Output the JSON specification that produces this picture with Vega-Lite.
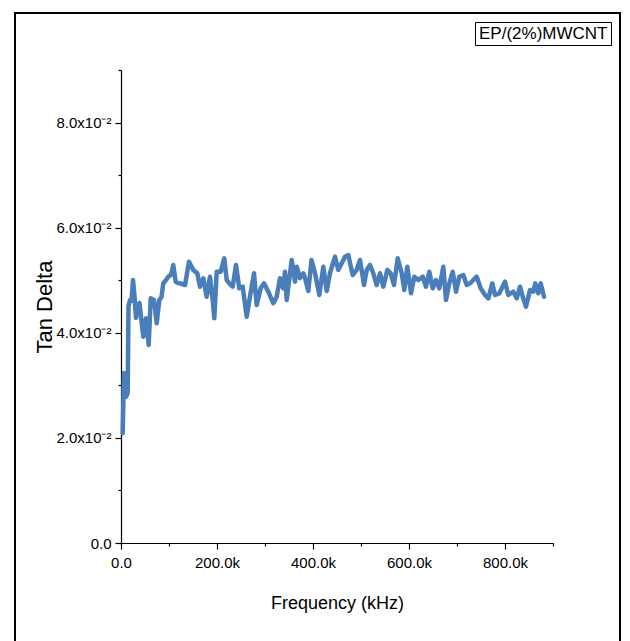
{
  "$schema": "https://vega.github.io/schema/vega-lite/v6.json",
  "width": 432,
  "height": 473,
  "autosize": "none",
  "padding": {"left": 121, "top": 70, "right": 77, "bottom": 98},
  "background": "white",
  "config": {
    "view": {"stroke": null},
    "axis": {
      "domainColor": "black", "tickColor": "black", "labelColor": "black", "titleColor": "black",
      "grid": false, "domainWidth": 1.2, "tickWidth": 1.2, "labelFlush": false,
      "labelFont": "Liberation Sans, Arial", "labelFontSize": 15,
      "titleFont": "Liberation Sans, Arial", "titleFontWeight": "normal", "titleFontSize": 18
    },
    "legend": {
      "orient": "none", "legendX": 354, "legendY": -48,
      "strokeColor": "black", "padding": 3,
      "labelFont": "Liberation Sans, Arial", "labelFontSize": 17, "labelColor": "black",
      "labelLimit": 300
    }
  },
  "data": {"values": [
    {"f": 3500, "v": 0.02087, "s": "EP/(2%)MWCNT"},
    {"f": 6250, "v": 0.03235, "s": "EP/(2%)MWCNT"},
    {"f": 10417, "v": 0.02784, "s": "EP/(2%)MWCNT"},
    {"f": 13958, "v": 0.02854, "s": "EP/(2%)MWCNT"},
    {"f": 15625, "v": 0.04510, "s": "EP/(2%)MWCNT"},
    {"f": 18750, "v": 0.04624, "s": "EP/(2%)MWCNT"},
    {"f": 21875, "v": 0.04605, "s": "EP/(2%)MWCNT"},
    {"f": 25000, "v": 0.05004, "s": "EP/(2%)MWCNT"},
    {"f": 28125, "v": 0.04700, "s": "EP/(2%)MWCNT"},
    {"f": 31250, "v": 0.04281, "s": "EP/(2%)MWCNT"},
    {"f": 35417, "v": 0.04529, "s": "EP/(2%)MWCNT"},
    {"f": 38542, "v": 0.04567, "s": "EP/(2%)MWCNT"},
    {"f": 41667, "v": 0.04300, "s": "EP/(2%)MWCNT"},
    {"f": 46458, "v": 0.03925, "s": "EP/(2%)MWCNT"},
    {"f": 52083, "v": 0.04275, "s": "EP/(2%)MWCNT"},
    {"f": 57708, "v": 0.03767, "s": "EP/(2%)MWCNT"},
    {"f": 61875, "v": 0.04656, "s": "EP/(2%)MWCNT"},
    {"f": 64583, "v": 0.04643, "s": "EP/(2%)MWCNT"},
    {"f": 68750, "v": 0.04624, "s": "EP/(2%)MWCNT"},
    {"f": 74375, "v": 0.04180, "s": "EP/(2%)MWCNT"},
    {"f": 79792, "v": 0.04624, "s": "EP/(2%)MWCNT"},
    {"f": 84375, "v": 0.04681, "s": "EP/(2%)MWCNT"},
    {"f": 88125, "v": 0.04941, "s": "EP/(2%)MWCNT"},
    {"f": 93750, "v": 0.05004, "s": "EP/(2%)MWCNT"},
    {"f": 98542, "v": 0.05067, "s": "EP/(2%)MWCNT"},
    {"f": 104167, "v": 0.05099, "s": "EP/(2%)MWCNT"},
    {"f": 108958, "v": 0.05290, "s": "EP/(2%)MWCNT"},
    {"f": 113958, "v": 0.04972, "s": "EP/(2%)MWCNT"},
    {"f": 118750, "v": 0.04947, "s": "EP/(2%)MWCNT"},
    {"f": 122917, "v": 0.04941, "s": "EP/(2%)MWCNT"},
    {"f": 133333, "v": 0.04909, "s": "EP/(2%)MWCNT"},
    {"f": 141667, "v": 0.05352, "s": "EP/(2%)MWCNT"},
    {"f": 150625, "v": 0.05195, "s": "EP/(2%)MWCNT"},
    {"f": 158958, "v": 0.05132, "s": "EP/(2%)MWCNT"},
    {"f": 164583, "v": 0.04877, "s": "EP/(2%)MWCNT"},
    {"f": 171458, "v": 0.05037, "s": "EP/(2%)MWCNT"},
    {"f": 178542, "v": 0.04686, "s": "EP/(2%)MWCNT"},
    {"f": 185417, "v": 0.05067, "s": "EP/(2%)MWCNT"},
    {"f": 191042, "v": 0.04624, "s": "EP/(2%)MWCNT"},
    {"f": 194375, "v": 0.04275, "s": "EP/(2%)MWCNT"},
    {"f": 199375, "v": 0.05162, "s": "EP/(2%)MWCNT"},
    {"f": 207708, "v": 0.05162, "s": "EP/(2%)MWCNT"},
    {"f": 215208, "v": 0.05417, "s": "EP/(2%)MWCNT"},
    {"f": 220208, "v": 0.05004, "s": "EP/(2%)MWCNT"},
    {"f": 225625, "v": 0.04941, "s": "EP/(2%)MWCNT"},
    {"f": 232708, "v": 0.04877, "s": "EP/(2%)MWCNT"},
    {"f": 239583, "v": 0.05290, "s": "EP/(2%)MWCNT"},
    {"f": 246458, "v": 0.04846, "s": "EP/(2%)MWCNT"},
    {"f": 253542, "v": 0.04877, "s": "EP/(2%)MWCNT"},
    {"f": 261875, "v": 0.04306, "s": "EP/(2%)MWCNT"},
    {"f": 268750, "v": 0.04686, "s": "EP/(2%)MWCNT"},
    {"f": 277083, "v": 0.05132, "s": "EP/(2%)MWCNT"},
    {"f": 282708, "v": 0.04529, "s": "EP/(2%)MWCNT"},
    {"f": 291042, "v": 0.04846, "s": "EP/(2%)MWCNT"},
    {"f": 297917, "v": 0.04941, "s": "EP/(2%)MWCNT"},
    {"f": 306875, "v": 0.04782, "s": "EP/(2%)MWCNT"},
    {"f": 317292, "v": 0.04561, "s": "EP/(2%)MWCNT"},
    {"f": 324375, "v": 0.04686, "s": "EP/(2%)MWCNT"},
    {"f": 331250, "v": 0.05037, "s": "EP/(2%)MWCNT"},
    {"f": 338125, "v": 0.04846, "s": "EP/(2%)MWCNT"},
    {"f": 341667, "v": 0.05162, "s": "EP/(2%)MWCNT"},
    {"f": 345208, "v": 0.04624, "s": "EP/(2%)MWCNT"},
    {"f": 355625, "v": 0.05385, "s": "EP/(2%)MWCNT"},
    {"f": 362500, "v": 0.04972, "s": "EP/(2%)MWCNT"},
    {"f": 366042, "v": 0.05257, "s": "EP/(2%)MWCNT"},
    {"f": 372917, "v": 0.05042, "s": "EP/(2%)MWCNT"},
    {"f": 379792, "v": 0.05132, "s": "EP/(2%)MWCNT"},
    {"f": 383333, "v": 0.05037, "s": "EP/(2%)MWCNT"},
    {"f": 390208, "v": 0.04795, "s": "EP/(2%)MWCNT"},
    {"f": 396875, "v": 0.05385, "s": "EP/(2%)MWCNT"},
    {"f": 404167, "v": 0.05137, "s": "EP/(2%)MWCNT"},
    {"f": 413125, "v": 0.04719, "s": "EP/(2%)MWCNT"},
    {"f": 421458, "v": 0.05257, "s": "EP/(2%)MWCNT"},
    {"f": 428542, "v": 0.04795, "s": "EP/(2%)MWCNT"},
    {"f": 435417, "v": 0.05137, "s": "EP/(2%)MWCNT"},
    {"f": 445833, "v": 0.05448, "s": "EP/(2%)MWCNT"},
    {"f": 452708, "v": 0.05195, "s": "EP/(2%)MWCNT"},
    {"f": 459792, "v": 0.05322, "s": "EP/(2%)MWCNT"},
    {"f": 466667, "v": 0.05448, "s": "EP/(2%)MWCNT"},
    {"f": 473542, "v": 0.05480, "s": "EP/(2%)MWCNT"},
    {"f": 482708, "v": 0.05099, "s": "EP/(2%)MWCNT"},
    {"f": 491042, "v": 0.05195, "s": "EP/(2%)MWCNT"},
    {"f": 497917, "v": 0.05385, "s": "EP/(2%)MWCNT"},
    {"f": 506250, "v": 0.04909, "s": "EP/(2%)MWCNT"},
    {"f": 511875, "v": 0.05195, "s": "EP/(2%)MWCNT"},
    {"f": 518750, "v": 0.05290, "s": "EP/(2%)MWCNT"},
    {"f": 525625, "v": 0.05132, "s": "EP/(2%)MWCNT"},
    {"f": 532708, "v": 0.04909, "s": "EP/(2%)MWCNT"},
    {"f": 539583, "v": 0.05132, "s": "EP/(2%)MWCNT"},
    {"f": 546458, "v": 0.04877, "s": "EP/(2%)MWCNT"},
    {"f": 554792, "v": 0.05195, "s": "EP/(2%)MWCNT"},
    {"f": 561875, "v": 0.05132, "s": "EP/(2%)MWCNT"},
    {"f": 568750, "v": 0.04909, "s": "EP/(2%)MWCNT"},
    {"f": 576458, "v": 0.05417, "s": "EP/(2%)MWCNT"},
    {"f": 584792, "v": 0.05132, "s": "EP/(2%)MWCNT"},
    {"f": 590208, "v": 0.04814, "s": "EP/(2%)MWCNT"},
    {"f": 596458, "v": 0.05257, "s": "EP/(2%)MWCNT"},
    {"f": 604167, "v": 0.04751, "s": "EP/(2%)MWCNT"},
    {"f": 611042, "v": 0.05067, "s": "EP/(2%)MWCNT"},
    {"f": 619375, "v": 0.05004, "s": "EP/(2%)MWCNT"},
    {"f": 628542, "v": 0.05067, "s": "EP/(2%)MWCNT"},
    {"f": 635417, "v": 0.04877, "s": "EP/(2%)MWCNT"},
    {"f": 642292, "v": 0.05162, "s": "EP/(2%)MWCNT"},
    {"f": 649375, "v": 0.04846, "s": "EP/(2%)MWCNT"},
    {"f": 656250, "v": 0.05004, "s": "EP/(2%)MWCNT"},
    {"f": 663125, "v": 0.04846, "s": "EP/(2%)MWCNT"},
    {"f": 671458, "v": 0.05257, "s": "EP/(2%)MWCNT"},
    {"f": 677083, "v": 0.04624, "s": "EP/(2%)MWCNT"},
    {"f": 683958, "v": 0.04941, "s": "EP/(2%)MWCNT"},
    {"f": 691042, "v": 0.05162, "s": "EP/(2%)MWCNT"},
    {"f": 697917, "v": 0.04782, "s": "EP/(2%)MWCNT"},
    {"f": 704792, "v": 0.05067, "s": "EP/(2%)MWCNT"},
    {"f": 713125, "v": 0.05099, "s": "EP/(2%)MWCNT"},
    {"f": 720208, "v": 0.04909, "s": "EP/(2%)MWCNT"},
    {"f": 727083, "v": 0.04941, "s": "EP/(2%)MWCNT"},
    {"f": 733958, "v": 0.05004, "s": "EP/(2%)MWCNT"},
    {"f": 741042, "v": 0.05067, "s": "EP/(2%)MWCNT"},
    {"f": 749375, "v": 0.04846, "s": "EP/(2%)MWCNT"},
    {"f": 758333, "v": 0.04719, "s": "EP/(2%)MWCNT"},
    {"f": 765208, "v": 0.04656, "s": "EP/(2%)MWCNT"},
    {"f": 773542, "v": 0.04941, "s": "EP/(2%)MWCNT"},
    {"f": 779167, "v": 0.04719, "s": "EP/(2%)MWCNT"},
    {"f": 788125, "v": 0.04751, "s": "EP/(2%)MWCNT"},
    {"f": 800000, "v": 0.04972, "s": "EP/(2%)MWCNT"},
    {"f": 806875, "v": 0.04719, "s": "EP/(2%)MWCNT"},
    {"f": 817292, "v": 0.04782, "s": "EP/(2%)MWCNT"},
    {"f": 824375, "v": 0.04656, "s": "EP/(2%)MWCNT"},
    {"f": 831250, "v": 0.04877, "s": "EP/(2%)MWCNT"},
    {"f": 836875, "v": 0.04686, "s": "EP/(2%)MWCNT"},
    {"f": 843750, "v": 0.04496, "s": "EP/(2%)MWCNT"},
    {"f": 852083, "v": 0.04814, "s": "EP/(2%)MWCNT"},
    {"f": 858958, "v": 0.04782, "s": "EP/(2%)MWCNT"},
    {"f": 863125, "v": 0.04941, "s": "EP/(2%)MWCNT"},
    {"f": 869375, "v": 0.04751, "s": "EP/(2%)MWCNT"},
    {"f": 874375, "v": 0.04941, "s": "EP/(2%)MWCNT"},
    {"f": 881250, "v": 0.04686, "s": "EP/(2%)MWCNT"}
  ]},
  "resolve": {"axis": {"x": "independent", "y": "independent"}},
  "layer": [
    {
      "mark": {"type": "line", "strokeWidth": 4.5, "strokeJoin": "round", "strokeCap": "round"},
      "encoding": {
        "x": {"field": "f", "type": "quantitative", "scale": {"domain": [0, 900000], "nice": false, "zero": false},
          "axis": {"title": "Frequency (kHz)", "orient": "bottom", "values": [0, 200000, 400000, 600000, 800000], "tickSize": 6, "labelPadding": 6, "titlePadding": 24,
            "labelExpr": "datum.value === 0 ? '0.0' : format(datum.value/1000, '.1f') + 'k'"}},
        "y": {"field": "v", "type": "quantitative", "scale": {"domain": [0, 0.09], "nice": false, "zero": false},
          "axis": {"title": "Tan Delta", "orient": "left", "titleFontSize": 22, "values": [0, 0.02, 0.04, 0.06, 0.08], "tickSize": 6, "labelPadding": 4, "titlePadding": -1,
            "labelExpr": "datum.value === 0 ? '0.0' : format(datum.value*100, '.1f') + 'x10⁻²'"}},
        "color": {"field": "s", "type": "nominal", "scale": {"range": ["#4a7ebb"]},
          "legend": {"title": null, "symbolType": "circle", "symbolSize": 0, "symbolOpacity": 0, "symbolStrokeWidth": 0, "labelOffset": -16}}
      }
    },
    {
      "mark": {"type": "rect", "fill": null, "stroke": "black", "strokeWidth": 1.2, "clip": false},
      "encoding": {
        "x": {"datum": -220833, "type": "quantitative", "scale": {"domain": [0, 900000], "nice": false, "zero": false},
          "axis": {"title": null, "orient": "bottom", "values": [100000, 300000, 500000, 700000, 900000], "labels": false, "domain": false, "tickSize": 3}},
        "x2": {"datum": 1039583},
        "y": {"datum": 0.100846, "type": "quantitative", "scale": {"domain": [0, 0.09], "nice": false, "zero": false},
          "axis": {"title": null, "orient": "left", "values": [0.01, 0.03, 0.05, 0.07, 0.09], "labels": false, "domain": false, "tickSize": 3}},
        "y2": {"datum": -0.02}
      }
    }
  ]
}
